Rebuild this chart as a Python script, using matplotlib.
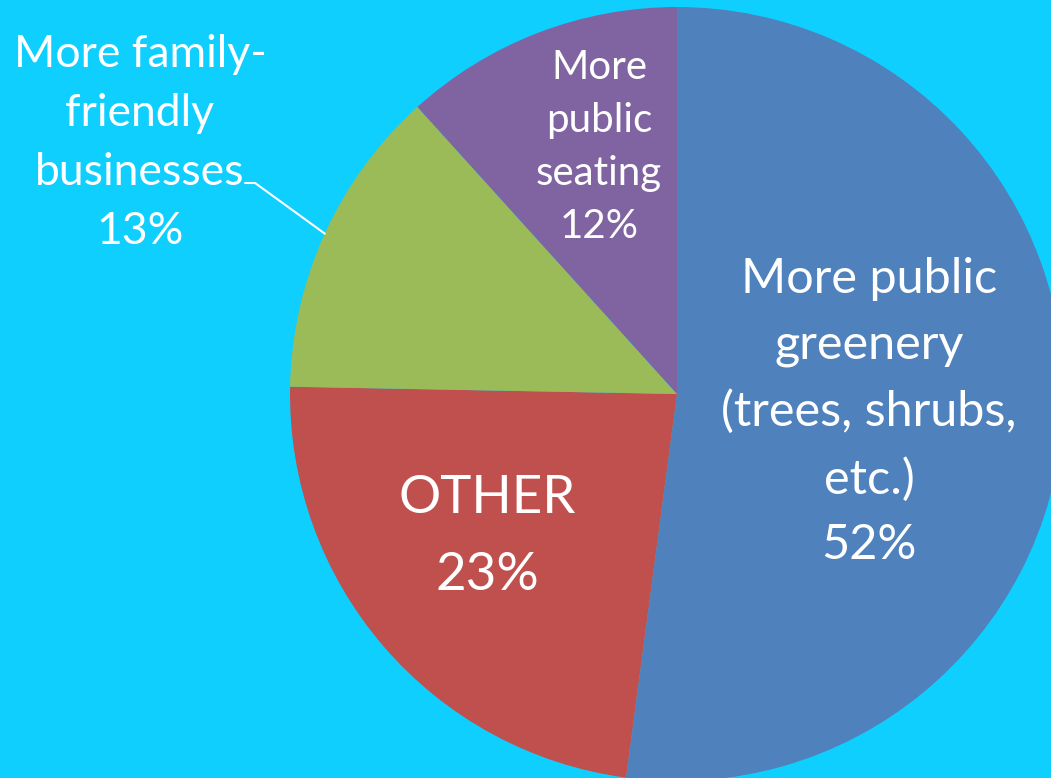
import matplotlib
matplotlib.use("Agg")
import matplotlib.pyplot as plt
import numpy as np

categories = ["More public\ngreenery\n(trees, shrubs,\netc.)", "OTHER",
              "More family-\nfriendly\nbusinesses", "More\npublic\nseating"]
values = [52.1, 23.2, 13.0, 11.7]
colors = ["#4F81BD", "#C0504D", "#9BBB59", "#8064A2"]
bg = "#0FCFFF"

W, H = 1051, 778
fig = plt.figure(figsize=(W / 100, H / 100), dpi=100, facecolor=bg)
ax = fig.add_axes([0, 0, 1, 1])
ax.set_facecolor(bg)

cx, cy, R = 677, H - 394, 387
wedges, _ = ax.pie(values, colors=colors, startangle=90, counterclock=False,
                   center=(cx, cy), radius=R, frame=True,
                   wedgeprops=dict(linewidth=0))
ax.set_xlim(0, W)
ax.set_ylim(0, H)
ax.set_aspect("equal")
ax.axis("off")

font = "Lato"
pct = [f"{v:.0f}%" for v in values]

# label layout: (x, y image px centre, fontsize, linespacing)
layout = [
    (869, 412, 35, 1.61),
    (487, 537, 38, 1.80),
    (140, 143, 32, 1.55),
    (599, 147, 29, 1.54),
]
for i, (x, y, fs, ls) in enumerate(layout):
    ax.text(x, H - y, categories[i] + "\n" + pct[i], ha="center", va="center",
            multialignment="center", color="white", fontsize=fs,
            family=font, linespacing=ls)

# leader line for the outside label (green slice)
w = wedges[2]
mid = np.deg2rad((w.theta1 + w.theta2) / 2)
edge = (cx + R * np.cos(mid), cy + R * np.sin(mid))
ax.annotate("", xy=edge, xytext=(245, H - 183),
            arrowprops=dict(arrowstyle="-", color="white", lw=1.5,
                            shrinkA=0, shrinkB=0,
                            connectionstyle="angle,angleA=0,angleB=-36,rad=0"))

fig.savefig("out.png", dpi=100, facecolor=bg)
